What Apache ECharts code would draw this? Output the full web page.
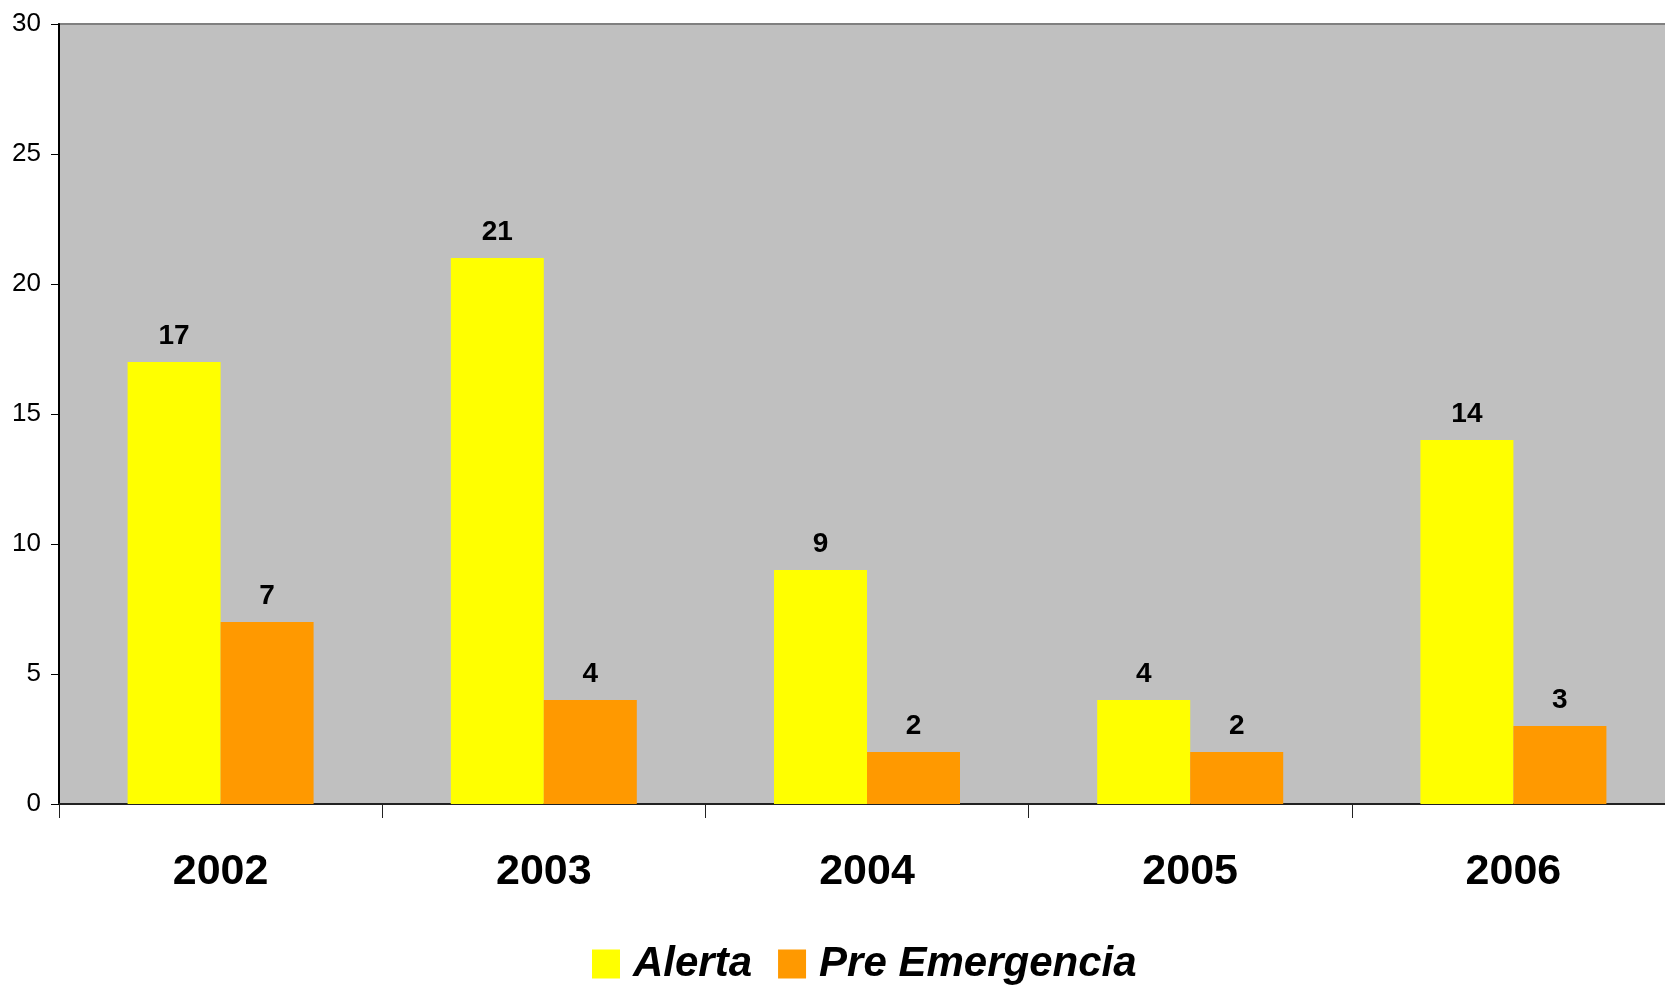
<!DOCTYPE html>
<html>
<head>
<meta charset="utf-8">
<script src="https://cdn.jsdelivr.net/npm/echarts@6/dist/echarts.min.js"></script>
<style>html,body{margin:0;padding:0;background:#fff;overflow:hidden;width:1665px;height:986px}#c{width:1675px;height:986px}</style>
</head>
<body>
<div id="c"></div>
<script>
const categories = ['2002', '2003', '2004', '2005', '2006'];
const alerta = [17, 21, 9, 4, 14];
const preEmergencia = [7, 4, 2, 2, 3];
const seriesNames = ['Alerta', 'Pre Emergencia'];

const chart = echarts.init(document.getElementById('c'));
const labelStyle = {
  show: true, position: 'top', distance: 12,
  color: '#000', fontFamily: 'Liberation Sans, Arial', fontWeight: 'bold', fontSize: 28
};
chart.setOption({
  animation: false,
  grid: {
    left: 59, top: 24, right: 0, bottom: 182,
    show: true, backgroundColor: '#C0C0C0', borderColor: '#808080', borderWidth: 2
  },
  legend: {
    data: seriesNames,
    left: 587, top: 938,
    itemWidth: 28, itemHeight: 29, itemGap: 26,
    icon: 'rect',
    textStyle: { fontFamily: 'Liberation Sans, Arial', fontWeight: 'bold', fontStyle: 'italic', fontSize: 42, color: '#000', padding: [0, 0, 0, 8] }
  },
  xAxis: {
    type: 'category', data: categories,
    axisLine: { lineStyle: { color: '#222', width: 2 } },
    axisTick: { show: true, length: 14, lineStyle: { color: '#222' } },
    axisLabel: { margin: 47, color: '#000', fontFamily: 'Liberation Sans, Arial', fontWeight: 'bold', fontSize: 43 }
  },
  yAxis: {
    type: 'value', min: 0, max: 30, interval: 5,
    splitLine: { show: false },
    axisLine: { show: true, lineStyle: { color: '#000', width: 2 } },
    axisTick: { show: true, length: 8, lineStyle: { color: '#000' } },
    axisLabel: { margin: 18, color: '#000', fontFamily: 'Liberation Sans, Arial', fontSize: 26 }
  },
  series: [
    { name: seriesNames[0], type: 'bar', data: alerta, barWidth: 93, barGap: '0%', itemStyle: { color: '#FFFF00' }, label: labelStyle },
    { name: seriesNames[1], type: 'bar', data: preEmergencia, barWidth: 93, barGap: '0%', itemStyle: { color: '#FF9900' }, label: labelStyle }
  ]
});
</script>
</body>
</html>
